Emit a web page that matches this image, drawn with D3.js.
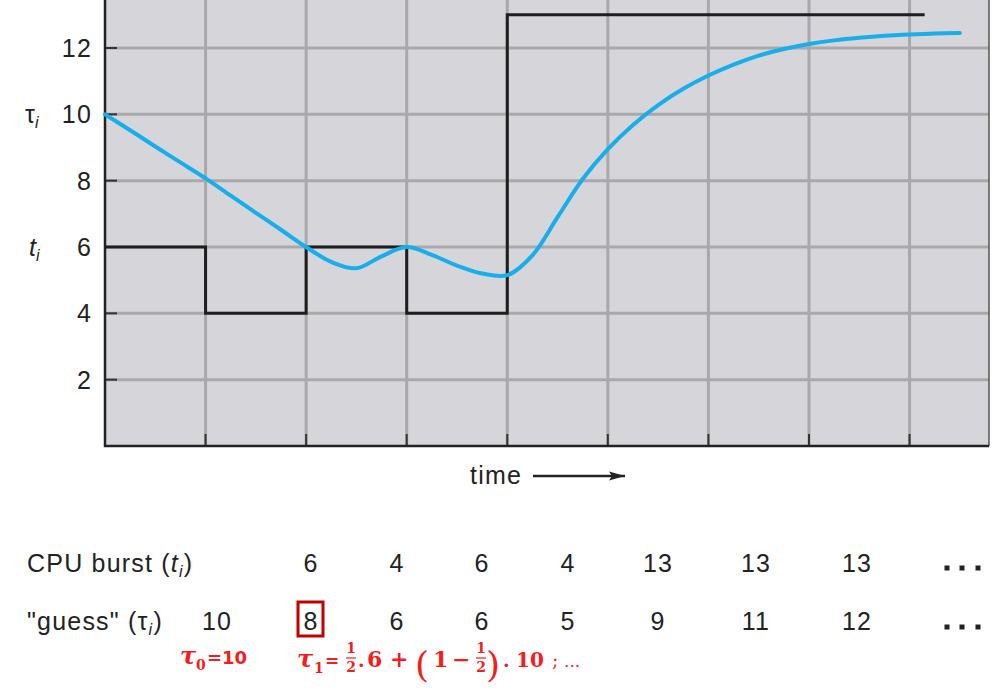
<!DOCTYPE html>
<html><head><meta charset="utf-8">
<script src="https://cdn.jsdelivr.net/npm/d3@7"></script>
<style>body{margin:0;background:#fff}svg{display:block}</style>
</head><body>
<script>
// ---- data ----
const yTicks = [2, 4, 6, 8, 10, 12];
const xGrid = [1, 2, 3, 4, 5, 6, 7, 8];
// actual CPU burst (step line): [time, value]
const burstSteps = [[0, 6], [1, 4], [2, 6], [3, 4], [4, 13], [8.15, 13]];
// predicted tau curve, every quarter time unit: [time, value]
const tauCurve = [[0, 10], [0.25, 9.52], [0.5, 9.03], [0.75, 8.55], [1, 8.07], [1.25, 7.55],
  [1.5, 7.03], [1.75, 6.52], [2, 6.0], [2.25, 5.55], [2.5, 5.36], [2.75, 5.72], [3, 6.0],
  [3.25, 5.76], [3.5, 5.44], [3.75, 5.2], [4, 5.15], [4.25, 5.75], [4.5, 6.9], [4.75, 8.05],
  [5, 8.95], [5.25, 9.68], [5.5, 10.28], [5.75, 10.77], [6, 11.17], [6.25, 11.5], [6.5, 11.77],
  [6.75, 11.97], [7, 12.12], [7.25, 12.23], [7.5, 12.31], [7.75, 12.37], [8, 12.41], [8.25, 12.44],
  [8.5, 12.45]];
const burstRow = ["6", "4", "6", "4", "13", "13", "13"];
const guessRow = ["10", "8", "6", "6", "5", "9", "11", "12"];

// ---- layout ----
const W = 995, H = 693;
const sans = "'Liberation Sans', Arial, Helvetica, sans-serif";
const svg = d3.select("body").append("svg").attr("width", W).attr("height", H)
  .style("font-family", sans);
const x = d3.scaleLinear().domain([0, 8.79]).range([105, 989]);
const y = d3.scaleLinear().domain([0, 12]).range([446, 48]);
const yTop = y(14);
const FS = 25, LS = 1.2, ink = "#222";

// background
svg.append("rect").attr("x", x(0)).attr("y", yTop).attr("width", x(8.79) - x(0)).attr("height", y(0) - yTop)
  .attr("fill", "#d6d6da");
// grid
svg.append("g").selectAll("line").data(yTicks.concat([13.9])).join("line")
  .attr("x1", x(0)).attr("x2", x(8.79)).attr("y1", d => y(d)).attr("y2", d => y(d))
  .attr("stroke", "#a9a9ab").attr("stroke-width", 3);
svg.append("g").selectAll("line").data(xGrid).join("line")
  .attr("x1", d => x(d)).attr("x2", d => x(d)).attr("y1", y(0)).attr("y2", yTop)
  .attr("stroke", "#a9a9ab").attr("stroke-width", 3);
// ticks
svg.append("g").selectAll("line").data(yTicks).join("line")
  .attr("x1", x(0)).attr("x2", x(0) + 12).attr("y1", d => y(d)).attr("y2", d => y(d))
  .attr("stroke", "#333").attr("stroke-width", 2);
svg.append("g").selectAll("line").data(xGrid).join("line")
  .attr("x1", d => x(d)).attr("x2", d => x(d)).attr("y1", y(0)).attr("y2", y(0) - 12)
  .attr("stroke", "#333").attr("stroke-width", 2);
// frame
svg.append("line").attr("x1", x(8.79)).attr("x2", x(8.79)).attr("y1", yTop).attr("y2", y(0))
  .attr("stroke", "#555").attr("stroke-width", 1.5);
svg.append("path").attr("d", `M${x(0)},${yTop}V${y(0)}H${x(8.79)}`)
  .attr("fill", "none").attr("stroke", "#222").attr("stroke-width", 2.5);

// step line
svg.append("path").datum(burstSteps)
  .attr("d", d3.line().x(d => x(d[0])).y(d => y(d[1])).curve(d3.curveStepAfter))
  .attr("fill", "none").attr("stroke", "#1e1e1e").attr("stroke-width", 3);
// tau curve
svg.append("path").datum(tauCurve)
  .attr("d", d3.line().x(d => x(d[0])).y(d => y(d[1])).curve(d3.curveCatmullRom.alpha(0.5)))
  .attr("fill", "none").attr("stroke", "#17aeea").attr("stroke-width", 4).attr("stroke-linecap", "round");

// y labels
svg.append("g").selectAll("text").data(yTicks).join("text")
  .attr("x", 92).attr("y", d => y(d)).attr("dy", "0.36em").attr("text-anchor", "end")
  .attr("font-size", FS).attr("letter-spacing", LS).attr("fill", ink).text(d => d);
// tau_i / t_i labels
const tl = svg.append("text").attr("x", 25).attr("y", y(10)).attr("dy", "0.36em").attr("font-size", FS).attr("fill", ink);
tl.append("tspan").text("τ");
tl.append("tspan").attr("font-size", 16).attr("font-style", "italic").attr("dy", 5).text("i");
const tl2 = svg.append("text").attr("x", 29).attr("y", y(6)).attr("dy", "0.36em").attr("font-size", FS).attr("fill", ink);
tl2.append("tspan").attr("font-style", "italic").text("t");
tl2.append("tspan").attr("font-size", 16).attr("font-style", "italic").attr("dy", 5).text("i");

// time arrow
svg.append("text").attr("x", 470).attr("y", 484).attr("font-size", FS).attr("letter-spacing", LS).attr("fill", ink).text("time");
svg.append("defs").append("marker").attr("id", "ah").attr("viewBox", "0 0 16 10").attr("refX", 16).attr("refY", 5)
  .attr("markerWidth", 16).attr("markerHeight", 10).attr("markerUnits", "userSpaceOnUse").attr("orient", "auto")
  .append("path").attr("d", "M0,0.5L16,5L0,9.5L3,5Z").attr("fill", ink);
svg.append("line").attr("x1", 533).attr("x2", 625).attr("y1", 476).attr("y2", 476)
  .attr("stroke", ink).attr("stroke-width", 2.5).attr("marker-end", "url(#ah)");

// table
const colX = [217, 311, 397, 482, 568, 658, 756, 857];
const r1 = svg.append("text").attr("x", 27).attr("y", 572).attr("font-size", FS).attr("letter-spacing", LS).attr("fill", ink);
r1.append("tspan").text("CPU burst (");
r1.append("tspan").attr("font-style", "italic").text("t");
r1.append("tspan").attr("font-size", 16).attr("font-style", "italic").attr("dy", 5).text("i");
r1.append("tspan").attr("dy", -5).text(")");
const r2 = svg.append("text").attr("x", 27).attr("y", 630).attr("font-size", FS).attr("letter-spacing", LS).attr("fill", ink);
r2.append("tspan").text("\"guess\" (τ");
r2.append("tspan").attr("font-size", 16).attr("font-style", "italic").attr("dy", 5).text("i");
r2.append("tspan").attr("dy", -5).text(")");
svg.append("g").selectAll("text").data(burstRow).join("text")
  .attr("x", (d, i) => colX[i + 1]).attr("y", 572).attr("text-anchor", "middle")
  .attr("font-size", FS).attr("letter-spacing", LS).attr("fill", ink).text(d => d);
svg.append("g").selectAll("text").data(guessRow).join("text")
  .attr("x", (d, i) => colX[i]).attr("y", 630).attr("text-anchor", "middle")
  .attr("font-size", FS).attr("letter-spacing", LS).attr("fill", ink).text(d => d);
[568, 627].forEach(yy => {
  [947, 962, 978].forEach(xx => svg.append("rect").attr("x", xx - 2.5).attr("y", yy - 2.5).attr("width", 5).attr("height", 5).attr("fill", ink));
});
// red box around 8
svg.append("rect").attr("x", 298).attr("y", 602).attr("width", 25).attr("height", 34)
  .attr("fill", "none").attr("stroke", "#c00000").attr("stroke-width", 3);

// red annotations
const red = "#f41c1c";
const serif = "'DejaVu Serif', 'Liberation Serif', serif";
const dsans = "'DejaVu Sans', sans-serif";
const g = svg.append("g").attr("fill", red).attr("font-weight", "bold");
function t(xx, yy, s, size, fam, opts = {}) {
  const e = g.append("text").attr("x", xx).attr("y", yy).attr("font-size", size).attr("font-family", fam).text(s);
  if (opts.italic) e.attr("font-style", "italic");
  if (opts.anchor) e.attr("text-anchor", opts.anchor);
  if (opts.normal) e.attr("font-weight", "normal");
  return e;
}
// tau_0 = 10
t(180, 664, "τ", 24, serif, {italic: true});
t(196, 670, "0", 14, serif);
t(207, 664, "=10", 18, dsans);
// tau_1 = 1/2 . 6 + (1 - 1/2) . 10 ; ...
t(297, 667, "τ", 24, serif, {italic: true});
t(314, 673, "1", 14, serif);
t(325, 667, "=", 17, dsans);
function frac(cx) {
  t(cx, 653, "1", 14, serif, {anchor: "middle"});
  g.append("line").attr("x1", cx - 5).attr("x2", cx + 5).attr("y1", 658).attr("y2", 658).attr("stroke", red).attr("stroke-width", 1.2);
  t(cx, 672, "2", 14, serif, {anchor: "middle"});
}
frac(351);
t(358, 667, ".", 19, serif);
t(367, 667, "6", 22, serif);
t(390, 667, "+", 22, serif);
t(415, 677, "(", 36, serif, {normal: true});
t(433, 667, "1", 22, serif);
t(452, 667, "−", 22, serif);
frac(481);
t(486, 677, ")", 36, serif, {normal: true});
t(503, 667, ".", 19, serif);
t(516, 667, "10", 20, serif);
t(552, 667, ";", 19, serif, {normal: true});
t(564, 667, "...", 17, serif, {normal: true});
</script>
</body></html>
